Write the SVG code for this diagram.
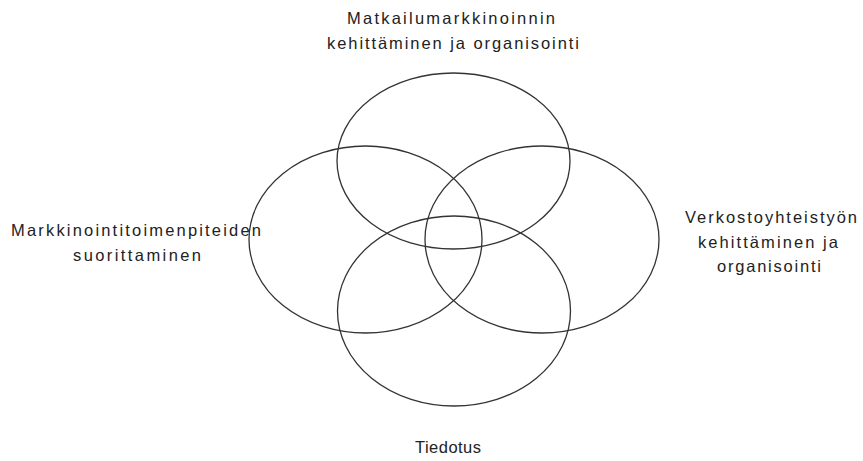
<svg xmlns="http://www.w3.org/2000/svg" width="863" height="461" viewBox="0 0 863 461">
<style>
.e{fill:none;stroke:#333;stroke-width:1.3}
.t{font-family:"Liberation Sans",Arial,sans-serif;font-size:16.5px;fill:#222;text-anchor:middle}
</style>
<rect width="863" height="461" fill="#fff"/>
<g id="top"><ellipse class="e" cx="453.5" cy="161" rx="116.5" ry="88"/></g>
<g id="left"><ellipse class="e" cx="365.5" cy="239.5" rx="116.5" ry="93.5"/></g>
<g id="right"><ellipse class="e" cx="542" cy="239.5" rx="117" ry="93.5"/></g>
<g id="bottom"><ellipse class="e" cx="454" cy="311" rx="116.5" ry="95"/></g>
<g id="label-top">
<text class="t" x="451" y="24" textLength="208" lengthAdjust="spacing">Matkailumarkkinoinnin</text>
<text class="t" x="453" y="49" textLength="252" lengthAdjust="spacing">kehittäminen ja organisointi</text>
</g>
<g id="label-left">
<text class="t" x="136" y="236" textLength="250" lengthAdjust="spacing">Markkinointitoimenpiteiden</text>
<text class="t" x="137" y="261" textLength="128" lengthAdjust="spacing">suorittaminen</text>
</g>
<g id="label-right">
<text class="t" x="771" y="223" textLength="172" lengthAdjust="spacing">Verkostoyhteistyön</text>
<text class="t" x="768" y="248" textLength="140" lengthAdjust="spacing">kehittäminen ja</text>
<text class="t" x="769" y="272" textLength="104" lengthAdjust="spacing">organisointi</text>
</g>
<g id="label-bottom">
<text class="t" x="448" y="453" textLength="66" lengthAdjust="spacing">Tiedotus</text>
</g>
</svg>
